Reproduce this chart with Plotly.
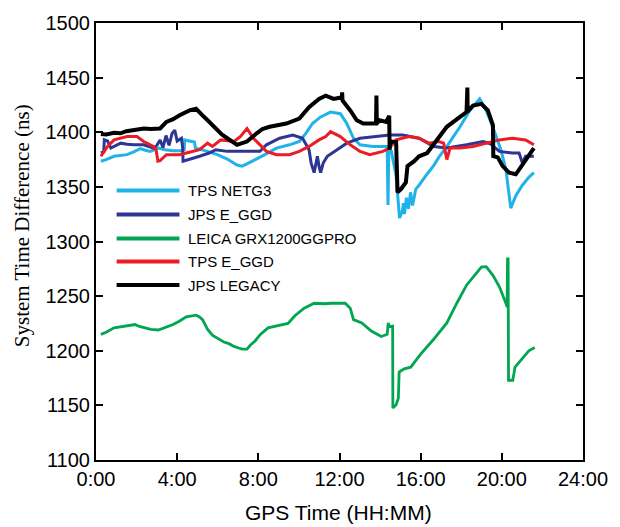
import plotly.graph_objects as go

# ---------------- data (hours, ns) ----------------
tps_netg3_t = [0.24, 0.5, 0.89, 1.2, 1.53, 1.86, 2.18, 2.43, 2.67, 3.07, 3.4, 3.8, 4.2, 4.35, 4.37, 4.6, 4.85, 4.9,
               5.25, 5.5, 5.98, 6.47, 6.95, 7.2, 7.44, 7.92, 8.32, 8.89, 9.54, 10.02, 10.34, 10.67, 11.07, 11.56,
               12.04, 12.36, 12.69, 13.01, 13.65, 14.22, 14.35, 14.39, 14.43, 14.55, 14.79, 14.96, 15.0, 15.1,
               15.15, 15.2, 15.3, 15.4, 15.5, 15.6, 15.76, 15.92, 16.25, 16.64, 16.89, 17.29, 17.94, 18.42, 18.91,
               19.23, 19.64, 19.95, 20.2, 20.44, 20.69, 21.01, 21.34, 21.58]
tps_netg3_v = [1373.5, 1375, 1378, 1379, 1379.5, 1382, 1385, 1383.5, 1382.5, 1385.5, 1384, 1383, 1383, 1384, 1393, 1392,
               1391, 1385.5, 1384, 1382.5, 1379.5, 1375.5, 1370, 1369, 1371, 1375.5, 1379.5, 1385.5, 1388.5, 1391.5,
               1399, 1408, 1414, 1418.5, 1417, 1408, 1394.5, 1388.5, 1387, 1387, 1387, 1333.5, 1385, 1383, 1360,
               1321.5, 1323, 1328, 1335, 1325, 1340, 1330, 1345, 1333, 1348, 1351.5, 1360, 1369.5, 1377, 1387, 1405,
               1420, 1430.5, 1420, 1400.5, 1384, 1366, 1330.5, 1342, 1351.5, 1359, 1363]

jps_eggd_t = [0.24, 0.38, 0.41, 0.57, 0.73, 0.9, 1.22, 1.53, 1.86, 2.35, 2.83, 3.0, 3.16, 3.3, 3.45, 3.6, 3.75, 3.88,
              4.0, 4.21, 4.27, 4.29, 4.61, 5.1, 5.58, 5.9, 6.47, 7.44, 8.08, 8.4, 9.05, 9.7, 10.18, 10.5, 10.6, 10.75,
              10.85, 10.91, 11.0, 11.07, 11.2, 11.4, 11.88, 12.36, 13.01, 13.65, 14.47, 15.11, 15.92, 16.64, 17.29,
              18.26, 19.07, 19.43, 19.88, 20.52, 20.85, 21.01, 21.17, 21.58]
jps_eggd_v = [1381, 1382, 1393, 1392, 1385.5, 1387, 1390, 1389, 1388.5, 1388.5, 1385.5, 1388, 1393, 1386, 1397, 1388,
              1399, 1402, 1392, 1394.5, 1386, 1373.5, 1375, 1378, 1381, 1384, 1382.5, 1382.5, 1382.5, 1388.5, 1394.5,
              1397.5, 1394.5, 1384, 1372, 1363, 1375, 1378, 1368, 1363, 1372, 1378, 1384, 1390, 1394.5, 1396,
              1397.5, 1397.5, 1394.5, 1387, 1385.5, 1388.5, 1391.5, 1389.5, 1382.5, 1381, 1381, 1372, 1378, 1378]

leica_t = [0.24, 0.5, 0.89, 1.2, 1.5, 1.93, 2.1, 2.43, 2.7, 3.07, 3.4, 3.8, 4.1, 4.45, 4.93, 5.1, 5.25, 5.5, 5.75,
           6.07, 6.3, 6.55, 6.8, 7.03, 7.2, 7.44, 7.6, 7.84, 8.1, 8.48, 8.97, 9.2, 9.46, 9.8, 10.26, 10.75, 11.0,
           11.24, 11.6, 11.96, 12.28, 12.53, 12.69, 13.1, 13.57, 14.06, 14.35, 14.4, 14.46, 14.62, 14.63, 14.79,
           14.9, 14.94, 15.19, 15.51, 16.0, 16.64, 17.29, 17.78, 18.26, 18.99, 19.23, 19.56, 19.88, 20.2, 20.26,
           20.28, 20.31, 20.33, 20.54, 20.65, 21.01, 21.33, 21.62]
leica_v = [1215, 1217, 1221, 1222, 1223, 1224, 1222.5, 1221, 1219.5, 1219, 1221, 1224, 1227, 1231, 1232.5, 1231,
           1228.5, 1219.5, 1214, 1210.5, 1208, 1206.5, 1204, 1202.5, 1201.5, 1201.5, 1205, 1209, 1215, 1221, 1223,
           1224, 1225, 1232, 1239, 1243.5, 1243, 1243, 1243.5, 1243.5, 1243.5, 1239, 1228.5, 1225.5, 1218, 1213,
           1215, 1225.5, 1222, 1222.5, 1147.5, 1150.5, 1156.5, 1180.5, 1183.5, 1185, 1197, 1210.5, 1225.5, 1243.5,
           1260, 1276.5, 1277, 1269, 1258.5, 1243.5, 1240, 1284, 1284, 1173, 1173, 1185, 1192.5, 1200, 1203]

tps_eggd_t = [0.24, 0.57, 0.89, 1.53, 2.02, 2.35, 2.83, 2.96, 3.05, 3.16, 3.47, 4.12, 4.45, 5.1, 5.5, 5.74, 6.15,
              6.8, 7.11, 7.44, 7.76, 8.08, 8.4, 8.89, 9.54, 10.02, 10.5, 10.99, 11.32, 11.56, 12.04, 12.53, 13.01,
              13.49, 14.14, 14.47, 14.79, 15.43, 15.92, 16.41, 16.89, 17.13, 17.29, 17.45, 17.94, 18.58, 19.23,
              19.88, 20.52, 21.17, 21.58]
tps_eggd_v = [1378, 1387, 1393, 1396, 1396, 1391.5, 1387, 1384, 1373.5, 1374, 1379.5, 1379.5, 1381, 1384, 1390, 1387,
              1393, 1391.5, 1396, 1403.5, 1394.5, 1388.5, 1382.5, 1379.5, 1379.5, 1382.5, 1387, 1393, 1396, 1400.5,
              1396, 1388.5, 1382.5, 1379.5, 1382.5, 1385.5, 1393, 1396, 1394.5, 1390, 1391.5, 1390, 1375, 1385.5,
              1385.5, 1387, 1390, 1393, 1394.5, 1393, 1388.5]

jps_legacy_t = [0.24, 0.5, 0.89, 1.2, 1.5, 1.86, 2.1, 2.35, 2.7, 3.16, 3.47, 3.8, 4.12, 4.61, 4.93, 5.05, 5.25, 5.5,
                5.66, 5.98, 6.2, 6.47, 6.95, 7.2, 7.44, 7.92, 8.2, 8.56, 9.0, 9.38, 10.02, 10.5, 10.99, 11.32, 11.71,
                12.04, 12.12, 12.13, 12.15, 12.53, 12.85, 13.17, 13.5, 13.8, 13.82, 13.84, 13.98, 14.3, 14.45, 14.47,
                14.5, 14.55, 14.79, 14.86, 15.03, 15.27, 15.35, 15.68, 15.92, 16.32, 16.72, 17.29, 17.94, 18.26,
                18.3, 18.32, 18.58, 18.99, 19.31, 19.56, 19.58, 19.8, 20.04, 20.36, 20.69, 21.01, 21.34, 21.58]
jps_legacy_v = [1398.5, 1398, 1399.5, 1399, 1401, 1402, 1402.5, 1403.5, 1403, 1403.5, 1409.5, 1412, 1415.5, 1420,
                1421.5, 1419, 1415.5, 1411, 1408, 1402, 1398, 1394.5, 1388.5, 1390, 1391.5, 1399, 1403, 1405, 1406.5,
                1408, 1412.5, 1423, 1430.5, 1433.5, 1430.5, 1431.5, 1432, 1436.5, 1429, 1420, 1411, 1408, 1408, 1408,
                1433.5, 1408, 1411, 1409.5, 1415, 1384, 1392, 1391.5, 1391, 1345, 1348, 1354, 1369, 1373.5, 1378,
                1381, 1391.5, 1405, 1414, 1418.5, 1441, 1419, 1424.5, 1426, 1420, 1406.5, 1378, 1377, 1369, 1363,
                1361.5, 1370.5, 1379.5, 1385.5]

series_names = ["TPS NETG3", "JPS E_GGD", "LEICA GRX1200GGPRO", "TPS E_GGD", "JPS LEGACY"]
series_t = [tps_netg3_t, jps_eggd_t, leica_t, tps_eggd_t, jps_legacy_t]
series_v = [tps_netg3_v, jps_eggd_v, leica_v, tps_eggd_v, jps_legacy_v]
series_colors = ["#1fb3e8", "#2e3592", "#00a651", "#ec1c24", "#000000"]
series_widths = [3, 3, 2.8, 3, 4]

x_tick_vals = [0, 4, 8, 12, 16, 20, 24]
x_tick_text = ["0:00", "4:00", "8:00", "12:00", "16:00", "20:00", "24:00"]
y_tick_vals = [1100, 1150, 1200, 1250, 1300, 1350, 1400, 1450, 1500]

# ---------------- figure ----------------
W, H = 620, 527
ML, MR, MT, MB = 96, 28, 14, 67
PW, PH = W - ML - MR, H - MT - MB

def px_x(p):
    return (p - ML) / PW

def px_y(p):
    return (H - MB - p) / PH

fig = go.Figure()
for name, t, v, c, w in zip(series_names, series_t, series_v, series_colors, series_widths):
    fig.add_trace(go.Scatter(x=t, y=v, mode="lines", name=name,
                             line=dict(color=c, width=w), showlegend=False))

sans = "Liberation Sans, Arial, Helvetica, sans-serif"
serif = "Liberation Serif, Times New Roman, serif"

# manual legend (line samples + text)
legend_rows_px = [185, 209.5, 234, 257.5, 281.5]
shapes = []
annotations = []
for name, c, yy in zip(series_names, series_colors, legend_rows_px):
    shapes.append(dict(type="line", xref="paper", yref="paper",
                       x0=px_x(117), x1=px_x(181), y0=px_y(yy), y1=px_y(yy),
                       line=dict(color=c, width=4)))
    annotations.append(dict(text=name, xref="paper", yref="paper", x=px_x(188), y=px_y(yy),
                            xanchor="left", yanchor="middle", showarrow=False,
                            font=dict(family=sans, size=15, color="#000")))

annotations.append(dict(text="System Time Difference (ns)", xref="paper", yref="paper",
                        x=px_x(20), y=px_y(221), textangle=-90, xanchor="center", yanchor="middle",
                        showarrow=False, font=dict(family=serif, size=21, color="#000")))
annotations.append(dict(text="GPS Time (HH:MM)", xref="paper", yref="paper",
                        x=px_x(343), y=px_y(514), xanchor="center", yanchor="middle",
                        showarrow=False, font=dict(family=sans, size=21, color="#000")))

axis_common = dict(showline=True, linecolor="#000", linewidth=2, mirror="ticks", ticks="inside",
                   ticklen=7, tickwidth=1.5, tickcolor="#000", showgrid=False, zeroline=False,
                   tickfont=dict(family=sans, size=20, color="#000"))

fig.update_layout(
    width=W, height=H,
    margin=dict(l=ML, r=MR, t=MT, b=MB),
    paper_bgcolor="white", plot_bgcolor="white",
    xaxis=dict(range=[0, 24], tickvals=x_tick_vals, ticktext=x_tick_text, **axis_common),
    yaxis=dict(range=[1100, 1500], tickvals=y_tick_vals, **axis_common),
    shapes=shapes, annotations=annotations, showlegend=False,
)

fig.write_html("out.html")
